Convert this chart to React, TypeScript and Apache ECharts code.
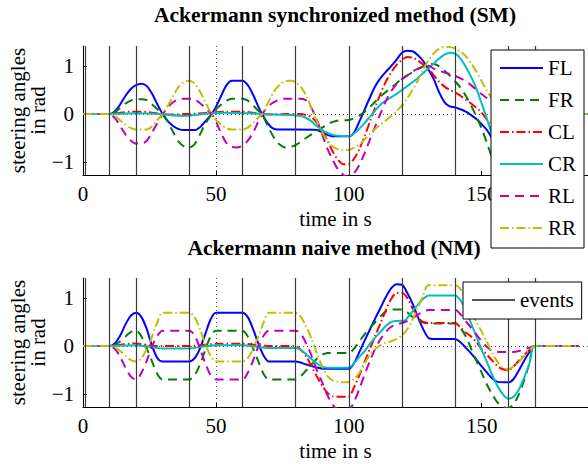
import React, { useEffect, useRef } from 'react';
import * as echarts from 'echarts';

const seriesNames = ['FL', 'FR', 'CL', 'CR', 'RL', 'RR'];
const xTicks = [0, 50, 100, 150];
const yTicks = [-1, 0, 1];
const eventTimes = [1, 10, 20, 40, 60, 80, 100, 120, 140, 160, 170];

// Ackermann synchronized method (SM)
const smFL = [[0,0],[10,0],[12,0.06],[14,0.2],[16,0.38],[18,0.52],[20,0.6],[22,0.63],[24,0.58],[26,0.42],[28,0.2],[30,0],[32,-0.15],[34,-0.25],[36,-0.31],[38,-0.33],[42,-0.33],[44,-0.27],[46,-0.15],[48.4,0],[50,0.15],[52,0.38],[54,0.6],[56,0.69],[60,0.69],[62,0.6],[64,0.4],[66,0.15],[67.4,0],[69,-0.15],[71,-0.28],[73,-0.32],[80,-0.32],[88,-0.33],[90,-0.38],[92,-0.43],[94,-0.46],[100,-0.46],[102,-0.38],[104,-0.15],[106,0.1],[108,0.35],[110,0.58],[112,0.75],[114,0.88],[116,1.0],[118,1.13],[120,1.27],[122,1.31],[124,1.3],[126,1.22],[128,1.1],[130,0.92],[132,0.72],[134,0.45],[136,0.25],[138,0.16],[140,0.14],[142,0.1],[144,0.05],[146,-0.02],[148,-0.1],[150,-0.21],[152,-0.33],[154,-0.5],[156,-0.62],[158,-0.7],[160,-0.72],[162,-0.6],[165,-0.3],[168,-0.08],[170,0],[190,0]];
const smFR = [[0,0],[10,0],[12,0.04],[14,0.13],[16,0.22],[18,0.28],[20,0.31],[22,0.31],[24,0.29],[26,0.2],[28,0.1],[30,0],[32,-0.17],[34,-0.38],[36,-0.57],[38,-0.67],[40,-0.69],[42,-0.62],[44,-0.42],[46,-0.2],[48.4,0],[50,0.1],[52,0.2],[54,0.28],[56,0.32],[60,0.32],[62,0.28],[64,0.18],[66,0.07],[67.4,0],[70,-0.3],[72,-0.5],[74,-0.63],[76,-0.69],[78,-0.68],[80,-0.64],[82,-0.57],[84,-0.49],[86,-0.42],[88,-0.35],[90,-0.28],[92,-0.21],[94,-0.16],[96,-0.13],[100,-0.12],[104,-0.03],[106,0.05],[108,0.15],[110,0.26],[112,0.37],[114,0.46],[116,0.55],[118,0.64],[120,0.74],[122,0.8],[124,0.87],[126,0.93],[128,0.99],[130,1.03],[132,1.04],[134,0.99],[136,0.9],[138,0.8],[140,0.68],[142,0.55],[144,0.38],[146,0.18],[148,-0.05],[150,-0.3],[152,-0.6],[154,-0.9],[156,-1.05],[158,-1.1],[160,-1.05],[163,-0.75],[166,-0.35],[170,0],[190,0]];
const smCL = [[0,0],[10,0],[14,0.03],[18,0.05],[22,0.05],[26,0.03],[30,0],[34,-0.01],[38,0],[42,0.01],[48,0.03],[54,0.05],[60,0.05],[64,0.03],[68,0],[72,-0.01],[76,0],[82,0],[84,-0.02],[86,-0.06],[88,-0.18],[90,-0.33],[92,-0.55],[94,-0.78],[96,-0.95],[98,-1.04],[100,-1.03],[102,-0.92],[104,-0.72],[106,-0.45],[108,-0.15],[110,0.15],[112,0.43],[114,0.68],[116,0.87],[118,1.02],[120,1.12],[122,1.18],[124,1.17],[126,1.11],[128,1.03],[130,0.95],[132,0.8],[134,0.67],[136,0.57],[138,0.5],[140,0.45],[142,0.38],[144,0.3],[146,0.22],[148,0.13],[150,0.03],[152,-0.12],[154,-0.3],[156,-0.4],[160,-0.48],[164,-0.3],[170,0],[190,0]];
const smCR = [[0,0],[10,0],[14,0.01],[20,0.02],[26,0.01],[30,0],[34,-0.03],[38,-0.04],[42,-0.02],[48,0.02],[54,0.03],[60,0.02],[66,0.01],[72,-0.01],[78,-0.02],[82,-0.04],[84,-0.08],[86,-0.15],[88,-0.25],[90,-0.33],[92,-0.39],[94,-0.43],[96,-0.45],[100,-0.455],[102,-0.4],[104,-0.3],[106,-0.18],[108,-0.05],[110,0.08],[112,0.2],[114,0.28],[116,0.35],[118,0.42],[120,0.5],[122,0.58],[124,0.66],[126,0.75],[128,0.85],[130,0.95],[132,1.05],[134,1.15],[136,1.23],[138,1.27],[140,1.25],[142,1.15],[144,0.98],[146,0.77],[148,0.53],[150,0.22],[152,-0.1],[154,-0.45],[156,-0.8],[158,-1.0],[160,-1.05],[163,-0.8],[166,-0.4],[170,0],[190,0]];
const smRL = [[0,0],[10,0],[12,-0.08],[14,-0.25],[16,-0.42],[18,-0.55],[20,-0.61],[22,-0.61],[24,-0.55],[26,-0.38],[28,-0.18],[30,0],[32,0.14],[34,0.25],[36,0.31],[38,0.32],[41,0.32],[43,0.27],[45,0.18],[47,0.07],[48.4,0],[50,-0.15],[52,-0.4],[54,-0.6],[56,-0.68],[58,-0.69],[60,-0.65],[62,-0.55],[64,-0.38],[66,-0.15],[67.4,0],[69,0.12],[71,0.22],[73,0.28],[76,0.32],[82,0.32],[84,0.28],[86,0.12],[88,-0.12],[90,-0.42],[92,-0.72],[94,-0.95],[96,-1.15],[98,-1.26],[100,-1.3],[102,-1.22],[104,-1.05],[106,-0.8],[108,-0.52],[110,-0.25],[112,0.02],[114,0.28],[116,0.48],[118,0.62],[120,0.72],[122,0.8],[124,0.88],[126,0.94],[128,0.98],[130,1.0],[132,0.94],[134,0.9],[136,0.86],[138,0.83],[140,0.79],[142,0.74],[144,0.68],[146,0.6],[148,0.5],[150,0.41],[152,0.33],[154,0.25],[158,0.05],[162,-0.1],[166,-0.05],[170,0],[190,0]];
const smRR = [[0,0],[10,0],[12,-0.04],[14,-0.13],[16,-0.22],[18,-0.29],[20,-0.32],[24,-0.32],[26,-0.25],[28,-0.12],[30,0],[32,0.18],[34,0.38],[36,0.57],[38,0.67],[40,0.69],[42,0.63],[44,0.47],[46,0.25],[48.4,0],[50,-0.12],[52,-0.22],[54,-0.29],[56,-0.32],[60,-0.32],[62,-0.28],[64,-0.19],[66,-0.07],[67.4,0],[70,0.28],[72,0.48],[74,0.61],[76,0.68],[78,0.69],[80,0.66],[82,0.56],[84,0.38],[86,0.12],[88,-0.15],[90,-0.38],[92,-0.55],[94,-0.67],[96,-0.73],[98,-0.75],[100,-0.74],[102,-0.7],[104,-0.63],[106,-0.52],[108,-0.4],[110,-0.3],[112,-0.22],[114,-0.13],[116,-0.04],[118,0.06],[120,0.18],[122,0.33],[124,0.5],[126,0.7],[128,0.92],[130,1.12],[132,1.26],[134,1.35],[136,1.39],[138,1.39],[140,1.36],[142,1.3],[144,1.2],[146,1.05],[148,0.88],[150,0.68],[152,0.48],[154,0.3],[157,0.0],[160,-0.3],[163,-0.3],[166,-0.15],[170,0],[190,0]];

// Ackermann naive method (NM)
const nmFL = [[0,0],[10,0],[12,0.06],[14,0.22],[16,0.45],[18,0.63],[20,0.69],[22,0.6],[24,0.35],[26,0],[28,-0.25],[30,-0.32],[40,-0.32],[42,-0.25],[44,-0.05],[46,0.25],[48,0.55],[50,0.69],[60,0.69],[62,0.6],[64,0.35],[66,0.05],[68,-0.2],[70,-0.32],[80,-0.32],[84,-0.38],[88,-0.44],[91,-0.47],[100,-0.47],[102,-0.35],[104,-0.12],[106,0.12],[108,0.35],[110,0.58],[112,0.8],[114,1.02],[116,1.2],[118,1.28],[120,1.27],[122,1.1],[124,0.88],[126,0.6],[128,0.35],[130,0.17],[132,0.15],[140,0.15],[142,0.08],[144,-0.03],[146,-0.15],[148,-0.28],[150,-0.42],[152,-0.55],[154,-0.67],[156,-0.74],[160,-0.75],[162,-0.68],[164,-0.5],[166,-0.3],[168,-0.12],[170,0],[186.5,0]];
const nmFR = [[0,0],[10,0],[12,0.03],[14,0.1],[16,0.2],[18,0.29],[20,0.32],[22,0.2],[24,-0.05],[26,-0.32],[28,-0.58],[30,-0.69],[40,-0.69],[42,-0.6],[44,-0.38],[46,-0.08],[48,0.2],[50,0.32],[60,0.32],[62,0.2],[64,-0.05],[66,-0.32],[68,-0.58],[70,-0.69],[80,-0.69],[82,-0.62],[84,-0.5],[86,-0.38],[88,-0.26],[90,-0.18],[92,-0.14],[100,-0.14],[102,-0.05],[104,0.1],[106,0.25],[108,0.38],[110,0.5],[112,0.62],[114,0.72],[116,0.76],[120,0.76],[122,0.7],[124,0.6],[126,0.53],[128,0.49],[130,0.47],[140,0.47],[142,0.38],[144,0.2],[146,-0.05],[148,-0.3],[150,-0.55],[152,-0.8],[154,-1.0],[156,-1.17],[158,-1.26],[160,-1.28],[162,-1.2],[164,-1.0],[166,-0.7],[168,-0.35],[170,0],[186.5,0]];
const nmCL = [[0,0],[10,0],[14,0.03],[18,0.05],[20,0.055],[22,0.04],[26,0.01],[30,0],[40,0],[44,0.02],[48,0.04],[50,0.05],[60,0.05],[64,0.03],[68,0.01],[70,0],[80,0],[82,-0.08],[84,-0.22],[86,-0.42],[88,-0.63],[90,-0.82],[92,-0.97],[94,-1.04],[96,-1.05],[100,-1.04],[102,-0.85],[104,-0.6],[106,-0.32],[108,-0.05],[110,0.22],[112,0.48],[114,0.75],[116,0.98],[118,1.1],[120,1.1],[122,1.0],[124,0.78],[126,0.6],[128,0.5],[130,0.48],[140,0.48],[142,0.38],[144,0.28],[146,0.2],[148,0.08],[150,-0.06],[152,-0.18],[154,-0.3],[156,-0.42],[158,-0.48],[160,-0.5],[162,-0.42],[164,-0.3],[166,-0.18],[168,-0.08],[170,0],[186.5,0]];
const nmCR = [[0,0],[10,0],[14,0.01],[20,0.02],[24,-0.01],[28,-0.04],[30,-0.05],[40,-0.05],[44,-0.02],[48,0.01],[50,0.02],[60,0.02],[64,0.0],[68,-0.03],[70,-0.04],[80,-0.04],[82,-0.08],[84,-0.17],[86,-0.27],[88,-0.36],[90,-0.42],[92,-0.45],[100,-0.45],[102,-0.35],[104,-0.22],[106,-0.1],[108,0.05],[110,0.18],[112,0.3],[114,0.42],[116,0.5],[118,0.52],[121,0.53],[122,0.58],[124,0.72],[126,0.86],[128,0.98],[130,1.05],[140,1.05],[142,0.95],[144,0.75],[146,0.47],[148,0.2],[150,-0.08],[152,-0.33],[154,-0.6],[156,-0.83],[158,-1.0],[160,-1.09],[162,-1.05],[164,-0.9],[166,-0.65],[168,-0.35],[170,0],[186.5,0]];
const nmRL = [[0,0],[10,0],[12,-0.06],[14,-0.22],[16,-0.45],[18,-0.63],[20,-0.69],[22,-0.55],[24,-0.3],[26,0],[28,0.22],[30,0.32],[40,0.32],[42,0.22],[44,-0.05],[46,-0.35],[48,-0.6],[50,-0.69],[60,-0.69],[62,-0.55],[64,-0.3],[66,0],[68,0.22],[70,0.32],[80,0.32],[82,0.25],[84,0.05],[86,-0.2],[88,-0.5],[90,-0.75],[92,-1.02],[94,-1.22],[96,-1.3],[100,-1.3],[102,-1.15],[104,-0.88],[106,-0.58],[108,-0.3],[110,-0.05],[112,0.15],[114,0.3],[116,0.4],[118,0.45],[120,0.48],[122,0.52],[124,0.58],[126,0.65],[128,0.71],[130,0.75],[140,0.75],[142,0.66],[144,0.52],[146,0.38],[148,0.24],[150,0.1],[152,-0.02],[154,-0.1],[156,-0.12],[162,-0.12],[164,-0.1],[166,-0.07],[168,-0.03],[170,0],[186.5,0]];
const nmRR = [[0,0],[10,0],[12,-0.03],[14,-0.1],[16,-0.2],[18,-0.29],[20,-0.32],[22,-0.25],[24,-0.05],[26,0.2],[28,0.5],[30,0.69],[40,0.69],[42,0.6],[44,0.35],[46,0.05],[48,-0.2],[50,-0.32],[60,-0.32],[62,-0.25],[64,-0.05],[66,0.2],[68,0.5],[70,0.69],[80,0.69],[82,0.6],[84,0.4],[86,0.15],[88,-0.15],[90,-0.42],[92,-0.62],[94,-0.71],[96,-0.74],[100,-0.75],[102,-0.68],[104,-0.55],[106,-0.35],[108,-0.18],[110,-0.06],[112,0.02],[114,0.07],[116,0.1],[118,0.15],[120,0.22],[122,0.35],[124,0.55],[126,0.8],[128,1.05],[130,1.26],[140,1.26],[142,1.18],[144,0.97],[146,0.72],[148,0.5],[150,0.3],[152,0.08],[154,-0.14],[156,-0.33],[158,-0.45],[160,-0.48],[162,-0.42],[164,-0.33],[166,-0.2],[168,-0.08],[170,0],[186.5,0]];

const smData = [smFL, smFR, smCL, smCR, smRL, smRR];
const nmData = [nmFL, nmFR, nmCL, nmCR, nmRL, nmRR];

const FONT = 'Liberation Serif, serif';
const lineStyles: any[] = [
  { color: '#0000ff', type: 'solid' },
  { color: '#008000', type: [9, 6] },
  { color: '#ff0000', type: [9, 3, 1.5, 3] },
  { color: '#00bfbf', type: 'solid' },
  { color: '#bf00bf', type: [9, 6] },
  { color: '#bfbf00', type: [9, 3, 1.5, 3] },
];

const Y_MIN = -1.26;
const Y_MAX = 1.41;
const X_MAX = 190;

function buildOption() {
  const grids = [
    { left: 83, top: 46, right: 0, height: 129 },
    { left: 83, top: 278, right: 0, height: 129 },
  ];
  const gridLine = { type: [1, 3], color: '#555', width: 1 };
  const xAxes = grids.map((_, i) => ({
    gridIndex: i,
    type: 'value',
    min: 0,
    max: X_MAX,
    interval: 50,
    name: 'time in s',
    nameLocation: 'middle',
    nameGap: 33,
    nameTextStyle: { fontFamily: FONT, fontSize: 21, color: '#000' },
    axisLine: { show: true, onZero: false, lineStyle: { color: '#000', width: 1 } },
    axisTick: { show: true, inside: true, length: 4, customValues: xTicks, lineStyle: { color: '#000' } },
    axisLabel: {
      customValues: xTicks,
      margin: 8,
      fontFamily: FONT,
      fontSize: 21,
      color: '#000',
      formatter: (v: number) => (v % 50 === 0 ? String(v) : ''),
    },
    splitLine: { show: true, showMinLine: false, showMaxLine: false, lineStyle: gridLine },
  }));
  const yAxes = grids.map((_, i) => ({
    gridIndex: i,
    type: 'value',
    min: Y_MIN,
    max: Y_MAX,
    axisLine: { show: true, onZero: false, lineStyle: { color: '#000', width: 1 } },
    axisTick: { show: true, inside: true, length: 4, customValues: yTicks, lineStyle: { color: '#000' } },
    axisLabel: {
      customValues: yTicks,
      margin: 9,
      fontFamily: FONT,
      fontSize: 21,
      color: '#000',
      formatter: (v: number) => (Number.isInteger(v) ? (v < 0 ? '\u2212' + Math.abs(v) : String(v)) : ''),
    },
    splitLine: { show: true, showMinLine: false, showMaxLine: false, lineStyle: gridLine },
  }));

  const series: any[] = [];
  [0, 1].forEach((i) => {
    series.push({
      name: 'events',
      type: 'line',
      xAxisIndex: i,
      yAxisIndex: i,
      data: [],
      symbol: 'none',
      color: '#555',
      lineStyle: { color: '#555', width: 1.2, type: 'solid' },
      markLine: {
        silent: true,
        symbol: ['none', 'none'],
        label: { show: false },
        lineStyle: { type: 'solid', color: '#3a3a3a', width: 1.2 },
        emphasis: { disabled: true },
        data: eventTimes.map((t) => ({ xAxis: t })),
      },
    });
    const src = i === 0 ? smData : nmData;
    src.forEach((d, k) => {
      series.push({
        name: seriesNames[k],
        type: 'line',
        xAxisIndex: i,
        yAxisIndex: i,
        data: d,
        symbol: 'none',
        showSymbol: false,
        smooth: 0.3,
        clip: true,
        color: lineStyles[k].color,
        lineStyle: { color: lineStyles[k].color, type: lineStyles[k].type, width: 2 },
        emphasis: { disabled: true },
      });
    });
  });

  const legendCommon = {
    orient: 'vertical',
    itemWidth: 43,
    itemHeight: 2,
    selectedMode: false,
    backgroundColor: '#fff',
    borderColor: '#000',
    borderWidth: 1,
    borderRadius: 0,
    itemStyle: { opacity: 0 },
    textStyle: { fontFamily: FONT, fontSize: 21, lineHeight: 22, color: '#000' },
    z: 10,
  };

  return {
    animation: false,
    backgroundColor: '#fff',
    textStyle: { fontFamily: FONT },
    title: [
      {
        text: 'Ackermann synchronized method (SM)',
        left: 335,
        top: 4,
        textAlign: 'center',
        padding: 0,
        textStyle: { fontFamily: FONT, fontSize: 21.5, fontWeight: 'bold', color: '#000' },
      },
      {
        text: 'Ackermann naive method (NM)',
        left: 334,
        top: 237,
        textAlign: 'center',
        padding: 0,
        textStyle: { fontFamily: FONT, fontSize: 21.5, fontWeight: 'bold', color: '#000' },
      },
    ],
    legend: [
      {
        ...legendCommon,
        data: seriesNames,
        left: 491,
        top: 50,
        padding: [7, 8, 9, 8],
        itemGap: 10,
      },
      {
        ...legendCommon,
        data: ['events'],
        left: 463,
        top: 282,
        padding: [7, 8, 8, 8],
      },
    ],
    grid: grids,
    xAxis: xAxes,
    yAxis: yAxes,
    series,
    graphic: [110.5, 342.5].map((cy) => ({
      type: 'text',
      x: 28,
      y: cy,
      rotation: Math.PI / 2,
      style: {
        text: 'steering angles\nin rad',
        fontFamily: FONT,
        fontSize: 21,
        lineHeight: 20,
        fill: '#000',
        align: 'center',
        verticalAlign: 'middle',
      },
    })),
  };
}

export default function App() {
  const ref = useRef<HTMLDivElement>(null);
  useEffect(() => {
    document.body.style.margin = '0';
    if (!ref.current) return;
    const chart = echarts.init(ref.current, null, { renderer: 'svg' });
    chart.setOption(buildOption() as any);
    return () => {
      chart.dispose();
    };
  }, []);
  return <div ref={ref} style={{ width: 588, height: 464 }} />;
}
